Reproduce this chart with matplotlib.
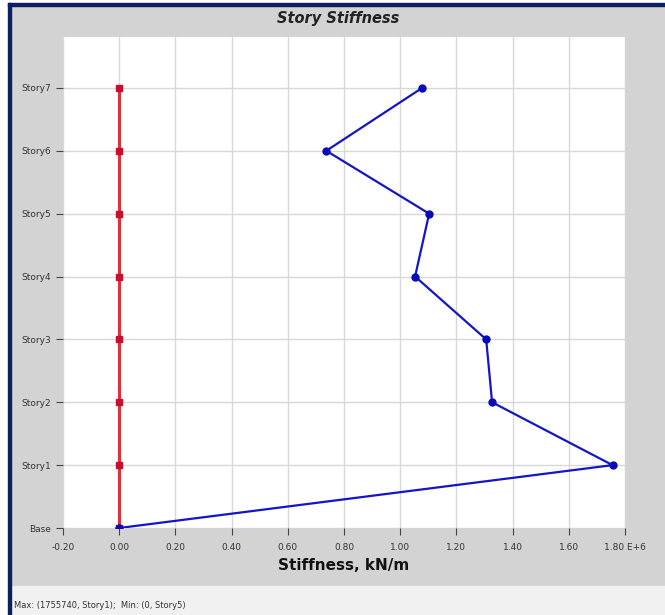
import numpy as np
import matplotlib
matplotlib.use('Agg')
import matplotlib.pyplot as plt
from matplotlib.patches import Rectangle

# data (stiffness in kN/m, x 1E+6)
stories = ['Base', 'Story1', 'Story2', 'Story3', 'Story4', 'Story5', 'Story6', 'Story7']
stiff_x = [0.0, 1.7557, 1.327, 1.306, 1.053, 1.103, 0.737, 1.078]
stiff_y = [0.0, 0.0, 0.0, 0.0, 0.0, 0.0, 0.0, 0.0]
xticks = [-0.2, 0.0, 0.2, 0.4, 0.6, 0.8, 1.0, 1.2, 1.4, 1.6, 1.8]
xticklabels = ['-0.20', '0.00', '0.20', '0.40', '0.60', '0.80', '1.00',
               '1.20', '1.40', '1.60', '1.80 E+6']
status = 'Max: (1755740, Story1);  Min: (0, Story5)'

W, H = 665, 615
fig = plt.figure(figsize=(W/100, H/100), dpi=100)
fig.patch.set_facecolor('white')

def px(x0, y0, w, h):
    # pixel box (top-left origin) -> figure fraction
    return (x0/W, 1 - (y0+h)/H, w/W, h/H)

def panel(x0, y0, w, h, c):
    b = px(x0, y0, w, h)
    fig.patches.append(Rectangle(b[:2], b[2], b[3], transform=fig.transFigure,
                                 color=c, zorder=-5))

# background panels
panel(11, 6, 654, 580, '#d3d3d3')
panel(11, 586, 654, 29, '#f1f1f1')
panel(8, 3, 657, 3, '#0b2060')
panel(8, 3, 3, 612, '#0b2060')

ax = fig.add_axes(px(63, 37, 562, 491))
ax.set_zorder(2)
ax.set_facecolor('white')
ypos = np.arange(len(stories))

ax.plot(stiff_y, ypos, color='#e0303a', lw=2.2, marker='s', ms=5,
        mfc='#c8102e', mec='#c8102e', zorder=3)
ax.plot(stiff_x, ypos, color='#1515c8', lw=1.6, marker='o', ms=5,
        mfc='#0a0ab8', mec='#0a0ab8', zorder=4)

ax.set_xlim(-0.2, 1.8)
ax.set_ylim(0, 7.81)
ax.set_xticks(xticks)
ax.set_xticklabels(xticklabels, fontsize=6.5, color='#333333')
ax.set_yticks(ypos)
ax.set_yticklabels(stories, fontsize=6.5, color='#333333')
ax.tick_params(axis='both', length=5, width=0.8, color='#444444')
ax.tick_params(axis='x', pad=6)
ax.grid(True, color='#d8d8d8', lw=1.0)
ax.set_axisbelow(True)
for s in ax.spines.values():
    s.set_visible(False)

ax.set_xlabel('Stiffness, kN/m', fontsize=11, fontweight='bold', color='#111111', labelpad=4)
fig.text(338/W, 1 - 18/H, 'Story Stiffness', ha='center', va='center',
         fontsize=10.5, fontweight='bold', style='italic', color='#222222')
fig.text(14/W, 1 - 606/H, status, ha='left', va='center', fontsize=6, color='#333333')

fig.savefig('out.png', dpi=100, facecolor=fig.get_facecolor())
